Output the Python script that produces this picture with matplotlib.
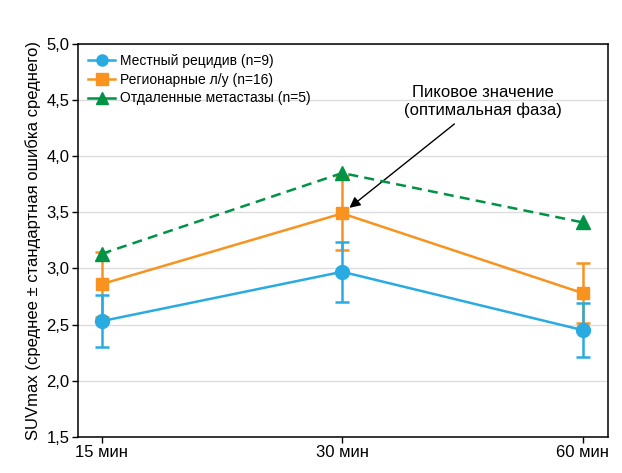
import numpy as np
import matplotlib.pyplot as plt
from matplotlib.lines import Line2D

plt.rcParams['font.family'] = ['Liberation Sans', 'DejaVu Sans']

times = ['15 мин', '30 мин', '60 мин']

local_mean = [2.53, 2.97, 2.45]
local_err = [0.23, 0.265, 0.24]

regional_mean = [2.86, 3.49, 2.78]
regional_err = [0.29, 0.33, 0.265]

distant_mean = [3.13, 3.85, 3.41]

y_ticks = [1.5, 2.0, 2.5, 3.0, 3.5, 4.0, 4.5, 5.0]

blue = '#29abe2'
orange = '#f7931e'
green = '#009245'

fig = plt.figure(figsize=(6.22, 4.73), dpi=100)
ax = fig.add_axes([0.1254, 0.0767, 0.977 - 0.1254, 0.907 - 0.0767])

x = np.arange(len(times))

ax.errorbar(x, regional_mean, yerr=regional_err, color=orange, marker='s',
            markersize=9, linewidth=1.8, elinewidth=1.8, capsize=5, capthick=1.8,
            zorder=3)
ax.errorbar(x, local_mean, yerr=local_err, color=blue, marker='o',
            markersize=10, linewidth=1.8, elinewidth=1.8, capsize=5, capthick=1.8,
            zorder=4)
dash = (0, (4, 2.5))
ax.plot(x, distant_mean, color=green, marker='^', markersize=10,
        linewidth=1.8, linestyle=dash, zorder=5)

ax.set_xlim(-0.0985, 2.104)
ax.set_ylim(1.5, 5.0)
ax.set_xticks(x)
ax.set_xticklabels(times, fontsize=12)
ax.set_yticks(y_ticks)
ax.set_yticklabels([f'{v:.1f}'.replace('.', ',') for v in y_ticks], fontsize=12)
ax.tick_params(direction='out', length=4, width=1, pad=2)
ax.grid(axis='y', color='#dddddd', linewidth=1)
ax.set_axisbelow(True)
for s in ax.spines.values():
    s.set_linewidth(1.1)
    s.set_color('black')

ax.set_ylabel('SUVmax (среднее ± стандартная ошибка среднего)', fontsize=12, labelpad=4)

legend_handles = [
    Line2D([], [], color=blue, marker='o', markersize=8, linewidth=1.8),
    Line2D([], [], color=orange, marker='s', markersize=8, linewidth=1.8),
    Line2D([], [], color=green, marker='^', markersize=8, linewidth=1.8),
]
legend_labels = ['Местный рецидив (n=9)', 'Регионарные л/у (n=16)',
                 'Отдаленные метастазы (n=5)']
ax.legend(legend_handles, legend_labels, loc='upper left', frameon=False,
          fontsize=10, handlelength=2, borderaxespad=0.3, labelspacing=0.35,
          handletextpad=0.3)

ax.annotate('Пиковое значение\n(оптимальная фаза)', xy=(1.03, 3.54), xytext=(1.585, 4.49),
            ha='center', va='center', fontsize=12,
            arrowprops=dict(arrowstyle='-|>', color='black', lw=1, mutation_scale=16,
                            shrinkA=4, shrinkB=0))

fig.savefig('out.png', dpi=100)
